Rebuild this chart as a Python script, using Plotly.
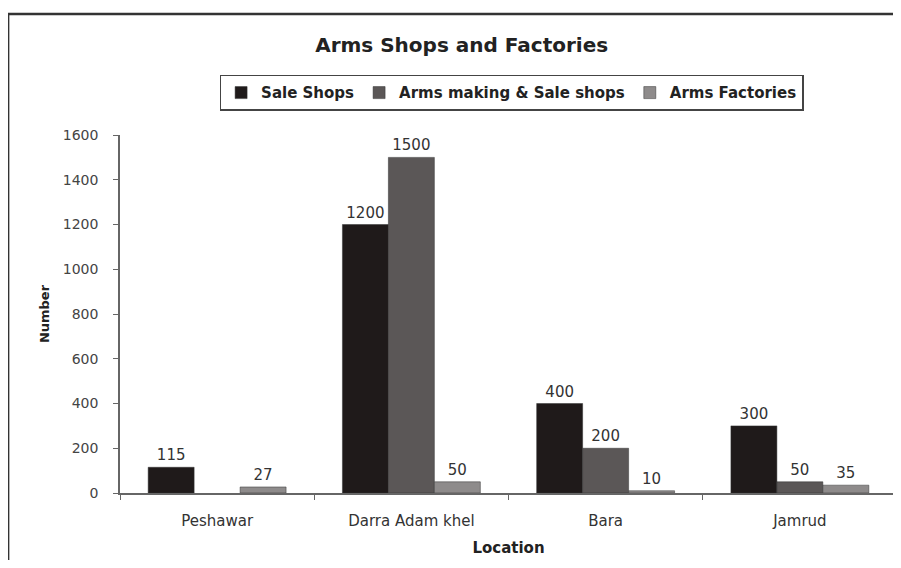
import plotly.graph_objects as go

locations = ['Peshawar', 'Darra Adam khel', 'Bara', 'Jamrud']
sale_shops = [115, 1200, 400, 300]
making_sale = [None, 1500, 200, 50]
factories = [27, 50, 10, 35]

y_ticks = [0, 200, 400, 600, 800, 1000, 1200, 1400, 1600]

fig = go.Figure()
for name, vals, col in [
    ("Sale Shops", sale_shops, '#1f1a1a'),
    ("Arms making & Sale shops", making_sale, '#5b5757'),
    ("Arms Factories", factories, '#8e8b8b'),
]:
    fig.add_trace(go.Bar(
        x=locations, y=vals, name=f"<b>{name}</b>", marker_color=col,
        marker_line=dict(color='#333', width=0.5),
        text=[v if v is not None else '' for v in vals], textposition='outside',
        textfont=dict(color='#333', size=15, family='DejaVu Sans'), cliponaxis=False
    ))

# page body has an 8px margin, so the figure is drawn smaller to fit the window
fig.update_layout(
    width=893, height=552,
    plot_bgcolor='white', paper_bgcolor='white',
    font=dict(family='DejaVu Sans, Arial', color='#333'),
    barmode='group', bargap=0.29, bargroupgap=0,
    margin=dict(l=112, r=4, t=127, b=67, autoexpand=False),
    title=dict(text="<b>Arms Shops and Factories</b>", x=0.508, xanchor='center',
               y=1 - 37 / 552, yanchor='middle', font=dict(size=20, color='#222')),
    legend=dict(orientation='h', x=0.504, xanchor='center', y=1.168, yanchor='top',
                bordercolor='#444', borderwidth=1.5, font=dict(size=15, color='#222'),
                traceorder='normal', itemwidth=30, tracegroupgap=0),
    xaxis=dict(title=dict(text="<b>Location</b>", font=dict(size=15, color='#222'), standoff=14),
               showline=True, linecolor='#666', linewidth=1.5,
               ticks='outside', tickson='boundaries', ticklen=5, tickcolor='#666',
               ticklabelstandoff=13,
               tickfont=dict(size=15, color='#333')),
    yaxis=dict(title=dict(text="<b>Number</b>", font=dict(size=13, color='#222'), standoff=10),
               range=[0, 1600], tickvals=y_ticks, showgrid=False, zeroline=False,
               showline=True, linecolor='#666', linewidth=1.5,
               ticks='outside', ticklen=5, tickcolor='#666', ticklabelstandoff=12,
               tickfont=dict(size=14, color='#444')),
    showlegend=True,
)

# outer frame of the chart
fig.add_shape(type='rect', xref='paper', yref='paper',
              x0=-0.144, x1=1.05, y0=-0.4, y1=1.338,
              line=dict(color='#333', width=2.5), layer='below')

fig.write_html("out.html")
